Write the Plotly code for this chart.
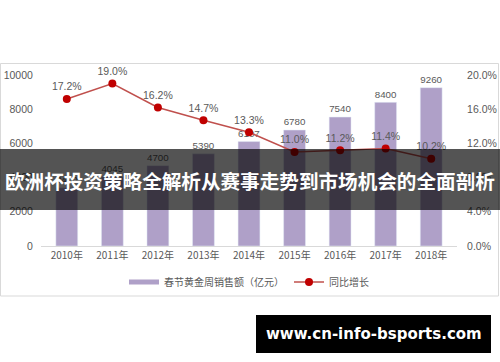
import plotly.graph_objects as go

years = ["2010年", "2011年", "2012年", "2013年", "2014年", "2015年", "2016年", "2017年", "2018年"]
sales = [3400, 4045, 4700, 5390, 6107, 6780, 7540, 8400, 9260]
growth = [0.172, 0.190, 0.162, 0.147, 0.133, 0.110, 0.112, 0.114, 0.102]
bar_name = "春节黄金周销售额（亿元）"
line_name = "同比增长"
banner = "欧洲杯投资策略全解析从赛事走势到市场机会的全面剖析"
site = "www.cn-info-bsports.com"

W, H = 500, 362
L, R, T, B = 41, 457, 75, 246
pw, ph = R - L, B - T


def px(x):
    return (x - L) / pw


def py(y):
    return (B - y) / ph


gray = "#595959"
purple = "#AFA0C8"
font = "Noto Sans CJK SC, Open Sans, sans-serif"
numfont = "Liberation Sans, Open Sans, sans-serif"

fig = go.Figure()
fig.add_trace(go.Bar(
    x=years, y=sales, name=bar_name, marker_color=purple, width=0.48,
    text=[str(v) for v in sales], textposition="outside", showlegend=False,
    textfont=dict(family=numfont, size=10.5, color=gray), cliponaxis=False,
))
# legend swatch for the bars (wide thin bar like the reference)
fig.add_trace(go.Scatter(
    x=[None], y=[None], name=bar_name, mode="lines",
    line=dict(color=purple, width=5), showlegend=True,
))
fig.add_trace(go.Scatter(
    x=years, y=growth, name=line_name, yaxis="y2", mode="lines+markers+text",
    line=dict(color="#C0504D", width=1.5), marker=dict(color="#C00000", size=8),
    text=[f"{g*100:.1f}%" for g in growth], textposition="top center",
    textfont=dict(family=numfont, size=10.5, color=gray), cliponaxis=False,
))

fig.update_layout(
    width=W, height=H, margin=dict(l=L, r=W - R, t=T, b=H - B, autoexpand=False),
    paper_bgcolor="white", plot_bgcolor="white",
    font=dict(family=font, color=gray, size=10),
    showlegend=True,
    legend=dict(orientation="h", x=0.5, xanchor="center", y=py(282), yanchor="middle",
                font=dict(size=10, color=gray), bgcolor="rgba(0,0,0,0)"),
    xaxis=dict(showgrid=False, showline=True, linecolor="#D9D9D9", ticks="", automargin=False,
               tickfont=dict(size=10, color=gray)),
    yaxis=dict(range=[0, 10000], dtick=2000, tickformat="d", showgrid=False, zeroline=False,
               automargin=False, tickfont=dict(family=numfont, size=10.5, color=gray),
               ticks="outside", ticklen=5, tickcolor="rgba(0,0,0,0)"),
    yaxis2=dict(range=[0, 0.20], dtick=0.04, tickformat=".1%", overlaying="y", side="right",
                showgrid=False, zeroline=False, automargin=False,
                tickfont=dict(family=numfont, size=10.5, color=gray),
                ticks="outside", ticklen=7, tickcolor="rgba(0,0,0,0)"),
    bargap=0.5,
)

shapes = [
    dict(type="rect", xref="paper", yref="paper", x0=px(0.5), x1=px(498.5), y0=py(296), y1=py(63.5),
         line=dict(color="#D9D9D9", width=1), fillcolor="rgba(0,0,0,0)", layer="below"),
    dict(type="rect", xref="paper", yref="paper", x0=px(0), x1=px(500), y0=py(210), y1=py(149),
         line=dict(width=0), fillcolor="rgba(0,0,0,0.67)", layer="above"),
    dict(type="rect", xref="paper", yref="paper", x0=px(256), x1=px(491), y0=py(353), y1=py(315),
         line=dict(width=0), fillcolor="black", layer="above"),
]
fig.update_layout(shapes=shapes)
fig.add_annotation(xref="paper", yref="paper", x=px(250), y=py(180), text=f"<b>{banner}</b>",
                   showarrow=False, font=dict(family=font, size=19.6, color="white"),
                   xanchor="center", yanchor="middle")
fig.add_annotation(xref="paper", yref="paper", x=px(373.5), y=py(334), text=f"<b>{site}</b>",
                   showarrow=False, font=dict(family="DejaVu Sans, sans-serif", size=15, color="white"),
                   xanchor="center", yanchor="middle")

fig.write_html("out.html", config={"displayModeBar": False},
               post_script="document.body.style.margin='0';document.body.style.overflow='hidden';")
